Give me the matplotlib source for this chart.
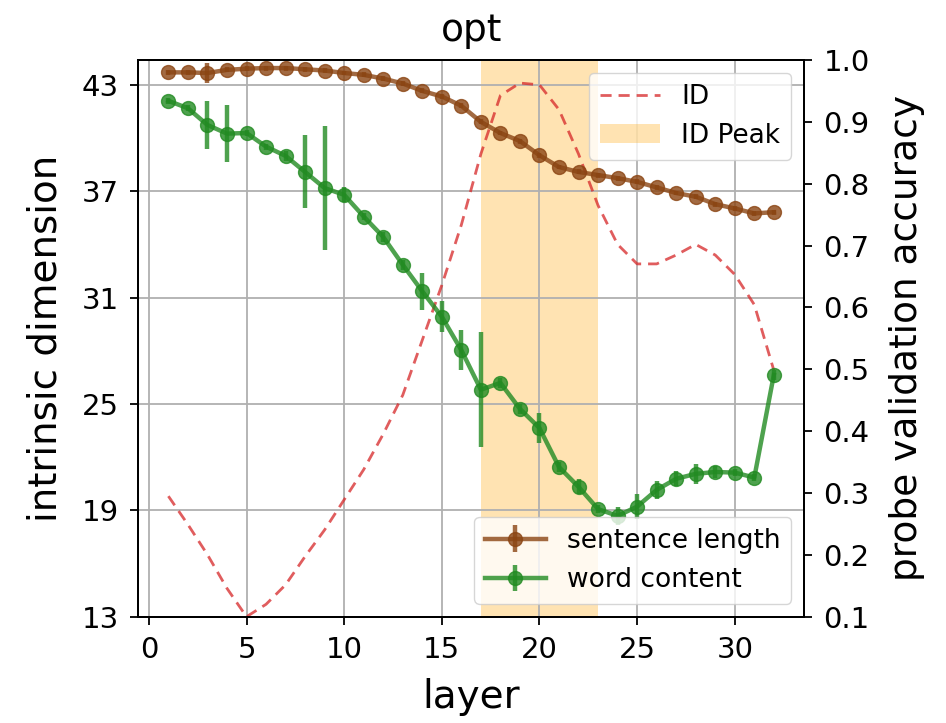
import matplotlib
matplotlib.use('Agg')
import matplotlib.pyplot as plt
import numpy as np

layers = np.arange(1, 33)

# intrinsic dimension (left axis)
id_vals = [19.8, 18.2, 16.5, 14.6, 13.0, 13.7, 14.8, 16.4, 17.9, 19.6,
           21.3, 23.3, 25.5, 28.6, 31.7, 35.1, 39.1, 42.4, 43.1, 43.0,
           41.6, 39.1, 36.2, 34.0, 32.9, 32.9, 33.4, 34.0, 33.4, 32.3,
           30.6, 26.9]

# probe accuracies (right axis)
sent_len = [0.980, 0.980, 0.979, 0.984, 0.986, 0.987, 0.987, 0.985, 0.983, 0.979,
            0.976, 0.970, 0.962, 0.950, 0.941, 0.926, 0.900, 0.882, 0.869, 0.846,
            0.827, 0.819, 0.814, 0.809, 0.803, 0.794, 0.785, 0.779, 0.767, 0.760,
            0.752, 0.754]
sent_err = [0.004, 0.004, 0.016, 0.004, 0.004, 0.004, 0.004, 0.004, 0.004, 0.004,
            0.004, 0.004, 0.004, 0.004, 0.004, 0.004, 0.004, 0.004, 0.004, 0.004,
            0.004, 0.004, 0.004, 0.004, 0.004, 0.004, 0.004, 0.004, 0.004, 0.004,
            0.004, 0.004]
word_cont = [0.934, 0.922, 0.895, 0.881, 0.882, 0.860, 0.845, 0.819, 0.793, 0.782,
             0.747, 0.714, 0.669, 0.626, 0.585, 0.531, 0.467, 0.478, 0.436, 0.405,
             0.342, 0.310, 0.274, 0.263, 0.278, 0.305, 0.323, 0.331, 0.334, 0.333,
             0.325, 0.491]
word_err = [0.005, 0.005, 0.039, 0.046, 0.005, 0.005, 0.008, 0.059, 0.100, 0.012,
            0.006, 0.008, 0.008, 0.030, 0.025, 0.032, 0.093, 0.008, 0.008, 0.024,
            0.008, 0.012, 0.006, 0.015, 0.020, 0.015, 0.012, 0.016, 0.010, 0.006,
            0.006, 0.008]

peak_start, peak_end = 17, 23

fig, ax = plt.subplots(figsize=(9.46, 7.23), dpi=100)
fig.subplots_adjust(left=0.146, right=0.850, bottom=0.147, top=0.917)

ax.plot(layers, id_vals, '--', color='tab:red', alpha=0.75, lw=2, dashes=(4, 2.5), label='ID')
ax.axvspan(peak_start, peak_end, color='orange', alpha=0.3, lw=0, label='ID Peak')
ax.set_ylim(13, 44.4)
ax.set_yticks([13, 19, 25, 31, 37, 43])
ax.set_xticks([0, 5, 10, 15, 20, 25, 30])
ax.grid(True, lw=1.3)
ax.set_xlabel('layer', fontsize=28, labelpad=10)
ax.set_ylabel('intrinsic dimension', fontsize=28, labelpad=12)
ax.tick_params(labelsize=21, length=6, width=1.3, pad=8)
ax.set_title('opt', fontsize=27, pad=14)
ax.legend(loc='upper right', fontsize=19, handlelength=2.3)
for s in ax.spines.values():
    s.set_linewidth(1.4)

ax2 = ax.twinx()
ax2.errorbar(layers, sent_len, yerr=sent_err, fmt='-o', color='saddlebrown',
             lw=3.2, ms=10, elinewidth=3.2, alpha=0.8, label='sentence length')
ax2.errorbar(layers, word_cont, yerr=word_err, fmt='-o', color='forestgreen',
             lw=3.2, ms=10, elinewidth=3.2, alpha=0.8, label='word content')
ax2.set_ylim(0.1, 1.0)
ax2.set_ylabel('probe validation accuracy', fontsize=27, labelpad=14)
ax2.tick_params(labelsize=21, length=6, width=1.3, pad=8)
ax2.legend(loc='lower right', fontsize=19, handlelength=2.3)
for s in ax2.spines.values():
    s.set_linewidth(1.4)

plt.savefig('out.png', dpi=100)
